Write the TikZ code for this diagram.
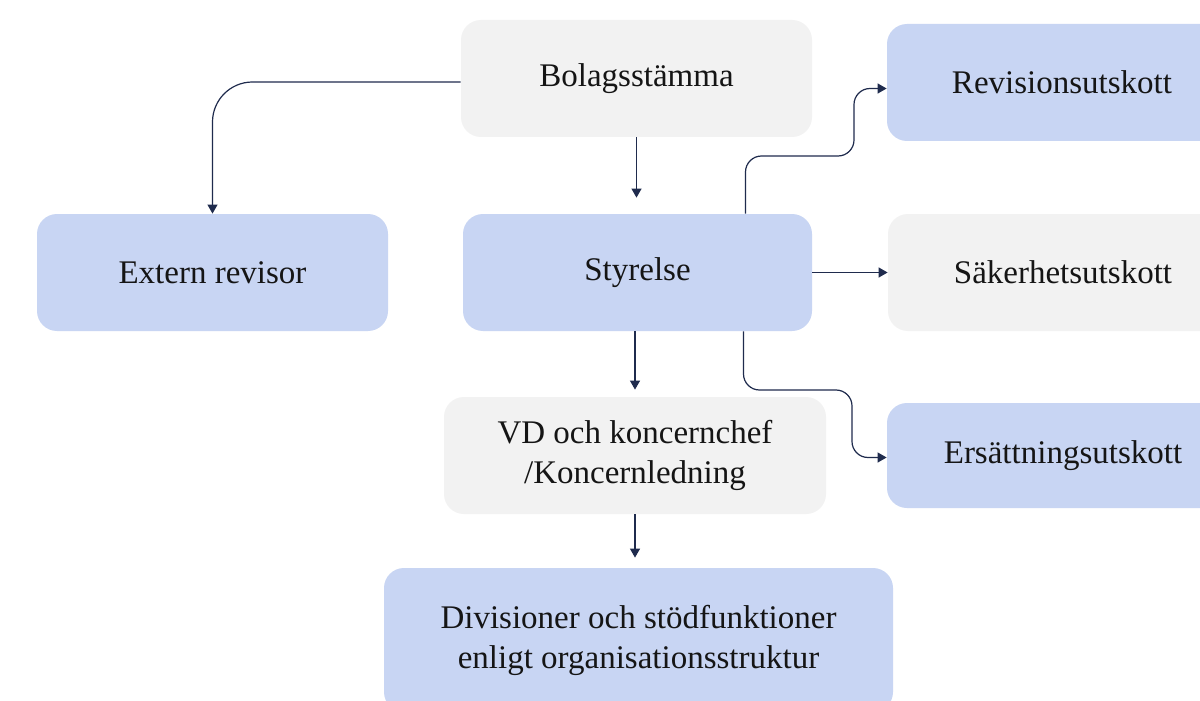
\documentclass[tikz,border=0pt]{standalone}
\usepackage{fontspec}
\setmainfont{Liberation Serif}
\usetikzlibrary{arrows.meta}
\definecolor{boxblue}{HTML}{C8D5F3}
\definecolor{boxgray}{HTML}{F2F2F2}
\definecolor{linenavy}{HTML}{1F2B4D}
\definecolor{textdark}{HTML}{151515}
\tikzset{
  orgbox/.style={rounded corners=10pt, minimum height=58.5pt, align=center,
    text=textdark, font=\fontsize{16.5}{20}\selectfont, inner sep=0pt},
  bluebox/.style={orgbox, fill=boxblue},
  graybox/.style={orgbox, fill=boxgray},
  conn/.style={->, draw=linenavy, line width=0.6pt}
}
\begin{document}
\begin{tikzpicture}[x=0.5pt, y=-0.5pt, >={Triangle[width=5pt,length=4.5pt]}]
\clip (0,0) rectangle (1200,701);
\fill[white] (0,0) rectangle (1200,701);

% boxes
\node[graybox, minimum width=175.5pt] (bolag) at (636.5,78.5) {Bolagsstämma};
\node[bluebox, minimum width=175.5pt] (extern) at (212.5,272.5) {Extern revisor};
\node[bluebox, minimum width=174.5pt] (styr) at (637.5,272.5) {Styrelse};
\node[bluebox, minimum width=175pt] (revis) at (1062,82.5) {Revisionsutskott};
\node[graybox, minimum width=175pt] (saker) at (1063,272.5) {Säkerhetsutskott};
\node[bluebox, minimum width=176pt, minimum height=52.5pt] (ersatt) at (1063,455.5) {Ersättningsutskott};
\node[graybox, minimum width=191pt] (vd) at (635,455.5) {VD och koncernchef\\/Koncernledning};
\node[bluebox, minimum width=254.5pt, minimum height=72pt] (divis) at (638.5,640) {Divisioner och stödfunktioner\\enligt organisationsstruktur};

\coordinate (up) at (854,156);
\coordinate (down) at (852,390);

% connectors
\draw[conn, rounded corners=20pt] ([yshift=-1.75pt]bolag.west) -| (extern.north);
\draw[conn, shorten >=8pt] (bolag.south) -- (bolag.south |- styr.north);
\draw[conn, rounded corners=8pt] ([xshift=54pt]styr.north) |- (up) |- ([yshift=-3pt]revis.west);
\draw[conn] (styr.east) -- (saker.west);
\draw[conn, rounded corners=8pt] ([xshift=53pt]styr.south) |- (down) |- ([yshift=-1pt]ersatt.west);
\draw[conn, shorten >=3.5pt] (styr.south -| vd.north) -- (vd.north);
\draw[conn, shorten >=5pt] (vd.south) -- (vd.south |- divis.north);
\end{tikzpicture}
\end{document}
